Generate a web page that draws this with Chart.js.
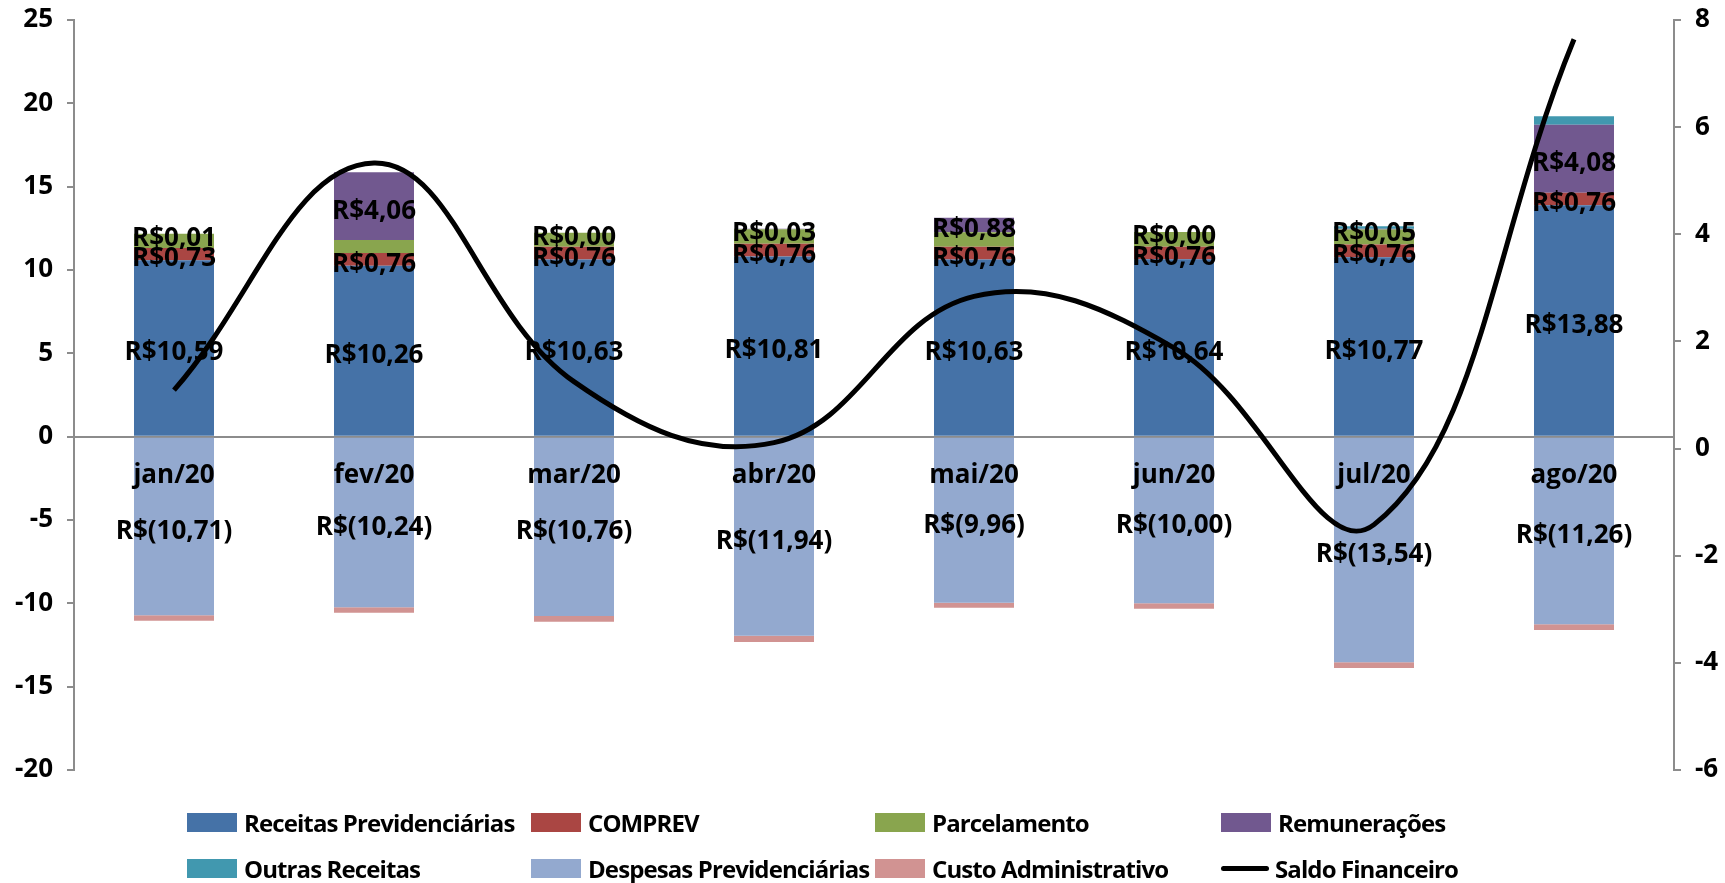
<!DOCTYPE html>
<html>
<head>
<meta charset="utf-8">
<script src="https://cdn.jsdelivr.net/npm/chart.js@4/dist/chart.umd.min.js"></script>
<style>
  html, body { margin: 0; padding: 0; background: #fff; }
  #wrap { position: relative; width: 1725px; height: 883px; }
  #legend {
    position: absolute; left: 187px; top: 808px;
    display: grid; grid-template-columns: 344px 344px 346px 344px; row-gap: 18px;
    font-family: "Open Sans", sans-serif; font-weight: bold; font-size: 24px; color: #000;
    letter-spacing: -0.9px;
  }
  .item { display: flex; align-items: center; height: 28px; white-space: nowrap; }
  .box { width: 50px; height: 19px; margin-right: 7px; flex: none; }
  .ln { width: 48px; height: 5px; border-radius: 3px; margin-right: 6px; background: #000; flex: none; }
</style>
</head>
<body>
<div id="wrap">
  <canvas id="saldoChart" width="1725" height="883"></canvas>
  <div id="legend"></div>
</div>
<script>
const meses = ['jan/20', 'fev/20', 'mar/20', 'abr/20', 'mai/20', 'jun/20', 'jul/20', 'ago/20'];

const receitasPrev = [10.59, 10.26, 10.63, 10.81, 10.63, 10.64, 10.77, 13.88];
const comprev = [0.73, 0.76, 0.76, 0.76, 0.76, 0.76, 0.76, 0.76];
const parcelamento = [0.85, 0.78, 0.85, 0.88, 0.87, 0.88, 0.90, 0];
const remuneracoes = [0.01, 4.06, 0.00, 0.03, 0.88, 0.00, 0.05, 4.08];
const outrasReceitas = [0, 0, 0, 0, 0, 0, 0.15, 0.50];
const despesasPrev = [-10.71, -10.24, -10.76, -11.94, -9.96, -10.00, -13.54, -11.26];
const custoAdm = [-0.33, -0.32, -0.35, -0.38, -0.30, -0.32, -0.34, -0.34];
const saldoFinanceiro = [1.09, 5.33, 1.25, 0.11, 2.84, 1.88, -1.42, 7.64];

const leftTicks = [-20, -15, -10, -5, 0, 5, 10, 15, 20, 25];
const rightTicks = [-6, -4, -2, 0, 2, 4, 6, 8];

const FONT = '"Open Sans", sans-serif';
const GRAY = '#8c8c8c';

const fmt = (v) => {
  const s = Math.abs(v).toFixed(2).replace('.', ',');
  return v < 0 ? 'R$(' + s + ')' : 'R$' + s;
};

// labels on the bar segments, drawn just before the line so the line sits on top
const barLabels = {
  id: 'barLabels',
  beforeDatasetDraw(chart, args) {
    if (args.meta.type !== 'line') return;
    const ctx = chart.ctx;
    ctx.save();
    ctx.font = 'bold 26px ' + FONT;
    ctx.fillStyle = '#000';
    ctx.textAlign = 'center';
    ctx.textBaseline = 'middle';
    chart.data.datasets.forEach((ds, i) => {
      if (!ds.showLabel) return;
      const meta = chart.getDatasetMeta(i);
      meta.data.forEach((bar, j) => {
        const p = bar.getProps(['x', 'y', 'base'], true);
        ctx.fillText(fmt(ds.data[j]), p.x, (p.y + p.base) / 2 + 5);
      });
    });
    ctx.restore();
  }
};

// fixed axis widths, no extra room for half tick labels
const fixAxis = (w) => (scale) => {
  scale.width = w;
  scale.paddingTop = 0;
  scale.paddingBottom = 0;
};

const ctx = document.getElementById('saldoChart');
const chart = new Chart(ctx, {
  type: 'bar',
  data: {
    labels: meses,
    datasets: [
      { type: 'line', label: 'Saldo Financeiro', data: saldoFinanceiro, yAxisID: 'y1', borderColor: '#000', backgroundColor: '#000',
        borderWidth: 5, pointRadius: 0, tension: 0.4, order: 0 },
      { label: 'Receitas Previdenciárias', data: receitasPrev, backgroundColor: '#4572A7', showLabel: true, order: 1 },
      { label: 'COMPREV', data: comprev, backgroundColor: '#AA4643', showLabel: true, order: 1 },
      { label: 'Parcelamento', data: parcelamento, backgroundColor: '#89A54E', order: 1 },
      { label: 'Remunerações', data: remuneracoes, backgroundColor: '#71588F', showLabel: true, order: 1 },
      { label: 'Outras Receitas', data: outrasReceitas, backgroundColor: '#4198AF', order: 1 },
      { label: 'Despesas Previdenciárias', data: despesasPrev, backgroundColor: '#93A9CF', showLabel: true, order: 1 },
      { label: 'Custo Administrativo', data: custoAdm, backgroundColor: '#D19392', order: 1 }
    ]
  },
  options: {
    responsive: false,
    animation: false,
    layout: { padding: { top: 20, bottom: 113, left: 0, right: 0 } },
    datasets: { bar: { categoryPercentage: 0.8, barPercentage: 0.5, stack: 's' } },
    plugins: { legend: { display: false }, tooltip: { enabled: false } },
    scales: {
      x: {
        stacked: true,
        position: { y: 0 },
        grid: { display: false, drawTicks: false },
        border: { display: true, color: GRAY, width: 2 },
        ticks: { z: 1, color: '#000', font: { family: FONT, size: 26, weight: 'bold' }, padding: 23, maxRotation: 0 }
      },
      y: {
        stacked: true,
        min: -20, max: 25,
        afterFit: fixAxis(74),
        afterBuildTicks(scale) { scale.ticks = leftTicks.map(v => ({ value: v })); },
        grid: { drawOnChartArea: false, drawTicks: true, tickLength: 7, color: GRAY, lineWidth: 2 },
        border: { color: GRAY, width: 2 },
        ticks: { color: '#000', font: { family: FONT, size: 26, weight: 'bold' }, padding: 14 }
      },
      y1: {
        position: 'right',
        min: -6, max: 8,
        afterFit: fixAxis(51),
        afterBuildTicks(scale) { scale.ticks = rightTicks.map(v => ({ value: v })); },
        grid: { drawOnChartArea: false, drawTicks: true, tickLength: 7, color: GRAY, lineWidth: 2 },
        border: { color: GRAY, width: 2 },
        ticks: { color: '#000', font: { family: FONT, size: 26, weight: 'bold' }, padding: 14 }
      }
    }
  },
  plugins: [barLabels]
});

// legend in Excel's fixed 4-column layout
const legendOrder = [1, 2, 3, 4, 5, 6, 7, 0];
const legendEl = document.getElementById('legend');
legendOrder.forEach((i) => {
  const ds = chart.data.datasets[i];
  const item = document.createElement('div');
  item.className = 'item';
  const mark = document.createElement('span');
  if (ds.type === 'line') {
    mark.className = 'ln';
  } else {
    mark.className = 'box';
    mark.style.background = ds.backgroundColor;
  }
  item.appendChild(mark);
  item.appendChild(document.createTextNode(ds.label));
  legendEl.appendChild(item);
});
</script>
</body>
</html>
